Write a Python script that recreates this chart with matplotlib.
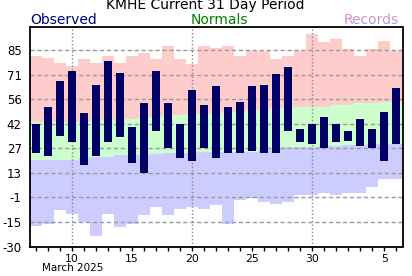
import numpy as np
import pandas as pd
import matplotlib
matplotlib.use('Agg')
import matplotlib.pyplot as plt
import matplotlib.dates as mdates
from matplotlib.transforms import Bbox

# ============================================================
# Data (deg F), one value per day, Mar 7 .. Apr 6 2025
# ============================================================

start_day = '2025-03-07'
end_day = '2025-04-06'

obs_high = [42, 52, 67, 73, 48, 65, 79, 72, 40, 54, 73, 54, 42, 62, 53, 64,
            52, 55, 64, 65, 71, 75, 39, 42, 46, 42, 38, 45, 39, 49, 63]
obs_low = [25, 23, 35, 31, 18, 23, 31, 34, 19, 13, 38, 28, 22, 20, 28, 22,
           25, 25, 26, 25, 25, 38, 31, 30, 28, 31, 32, 29, 28, 20, 30]

norm_high = [43.0, 43.2, 43.2, 43.2, 43.2, 43.8, 44.2, 44.8, 45.0, 45.8, 46.1,
             46.9, 46.9, 47.5, 47.5, 47.9, 48.7, 49.0, 49.9, 49.9, 51.1, 51.1,
             51.6, 51.6, 51.6, 52.8, 52.8, 54.0, 54.0, 54.6, 54.6]
norm_low = [20.6, 21.0, 21.0, 21.0, 22.0, 22.2, 22.4, 23.4, 23.4, 23.4, 24.4,
            24.6, 25.1, 25.1, 25.5, 25.5, 25.7, 25.7, 25.7, 26.3, 27.5, 28.1,
            28.1, 28.1, 28.7, 28.7, 29.3, 29.3, 29.9, 30.4, 30.4]

rec_high = [81.7, 80.7, 77.5, 75.8, 79.9, 77.5, 81.7, 77.5, 81.7, 83.4, 79.9,
            87.6, 79.9, 77.0, 87.6, 86.5, 87.6, 81.7, 84.6, 84.6, 79.9, 81.7,
            84.6, 94.6, 89.9, 91.7, 85.8, 81.7, 85.8, 90.5, 84.6]
rec_low = [-17.8, -16.6, -8.4, -10.8, -15.5, -23.7, -10.8, -18.4, -16.6,
           -11.4, -6.6, -11.4, -7.8, -6.6, -7.8, -5.5, -16.6, -2.5, -1.3,
           -3.7, -4.9, -3.7, 0.4, 0.4, 1.6, 0.4, 1.6, 1.6, 5.1, 9.3, 9.3]

y_tick_labels = ['-30', '-15', '-1', '13', '27', '42', '56', '71', '85']
x_tick_days = ['2025-03-10', '2025-03-15', '2025-03-20', '2025-03-25',
               '2025-03-30', '2025-04-05']
x_tick_labels = ['10', '15', '20', '25', '30', '5']
vline_days = ['2025-03-10', '2025-03-20', '2025-03-30']

# ============================================================
# Figure
# ============================================================

days = pd.date_range(start_day, end_day, freq='D')
x = mdates.date2num(days)
edges = np.append(x - 0.5, x[-1] + 0.5)

W, H = 412, 276
fig = plt.figure(figsize=(W / 100, H / 100), dpi=100)
ax = fig.add_axes([30 / W, (H - 246.5) / H, (402.5 - 30) / W, (246.5 - 26.7) / H])

# background bands: records / normals
ax.stairs(rec_high, edges, baseline=norm_high, fill=True, color='#ffcccc', lw=0, zorder=1)
ax.stairs(norm_high, edges, baseline=norm_low, fill=True, color='#ccffcc', lw=0, zorder=1)
ax.stairs(norm_low, edges, baseline=rec_low, fill=True, color='#ccccff', lw=0, zorder=1)

# grid
y_ticks = -30 + 14.375 * np.arange(len(y_tick_labels))
for yv in y_ticks[1:]:
    ax.axhline(yv, color='#999999', lw=1.0, ls=(0, (3, 2)), zorder=2)
for d in vline_days:
    ax.axvline(mdates.date2num(pd.Timestamp(d)), color='#888888', lw=1.0,
               ls=(0, (1, 1.6)), zorder=2)

# observed bars
hi = np.array(obs_high)
lo = np.array(obs_low)
ax.bar(x, hi - lo, bottom=lo, width=0.667, color='#000066', zorder=3)

ax.set_xlim(edges[0], edges[-1])
ax.set_ylim(-30, 98.9)

ax.set_yticks(y_ticks, y_tick_labels)
ax.tick_params(axis='y', length=0, pad=6, labelsize=8.5)

ax.set_xticks(mdates.date2num(pd.to_datetime(x_tick_days)), x_tick_labels)
ax.set_xticks(x, minor=True)
ax.tick_params(axis='x', which='both', direction='out', length=3, width=1,
               pad=2.5, labelsize=7.8)

for s in ax.spines.values():
    s.set_linewidth(1.3)
    s.set_zorder(5)

# ============================================================
# Texts
# ============================================================

fig.text(72.3 / W, 1 - 268 / H, 'March 2025', ha='center', va='center', fontsize=7.5)

fig.text(205 / W, 1 - 5.5 / H, 'KMHE Current 31 Day Period', ha='center',
         va='center', fontsize=10)
fig.text(30.5 / W, 1 - 19.5 / H, 'Observed', ha='left', va='center',
         fontsize=10, color='#000080')
fig.text(219 / W, 1 - 19.5 / H, 'Normals', ha='center', va='center',
         fontsize=10, color='#008000')

# "Records" with a pink-to-blue vertical gradient
c_top = np.array([1.0, 0.6, 0.6])
c_bot = np.array([0.6, 0.6, 1.0])
y_top, y_bot = H - 12.5, H - 25
n = 8
for i in range(n):
    f = (i + 0.5) / n
    col = c_top * (1 - f) + c_bot * f
    y0 = y_top - (y_top - y_bot) * (i + 1) / n
    y1 = y_top - (y_top - y_bot) * i / n
    if i == 0:
        y1 = H
    if i == n - 1:
        y0 = 0
    t = fig.text(398.5 / W, 1 - 19.5 / H, 'Records', ha='right', va='center',
                 fontsize=10, color=col)
    t.set_clip_on(True)
    t.set_clip_box(Bbox([[0, y0], [W, y1]]))

fig.savefig('out.png', dpi=100)
